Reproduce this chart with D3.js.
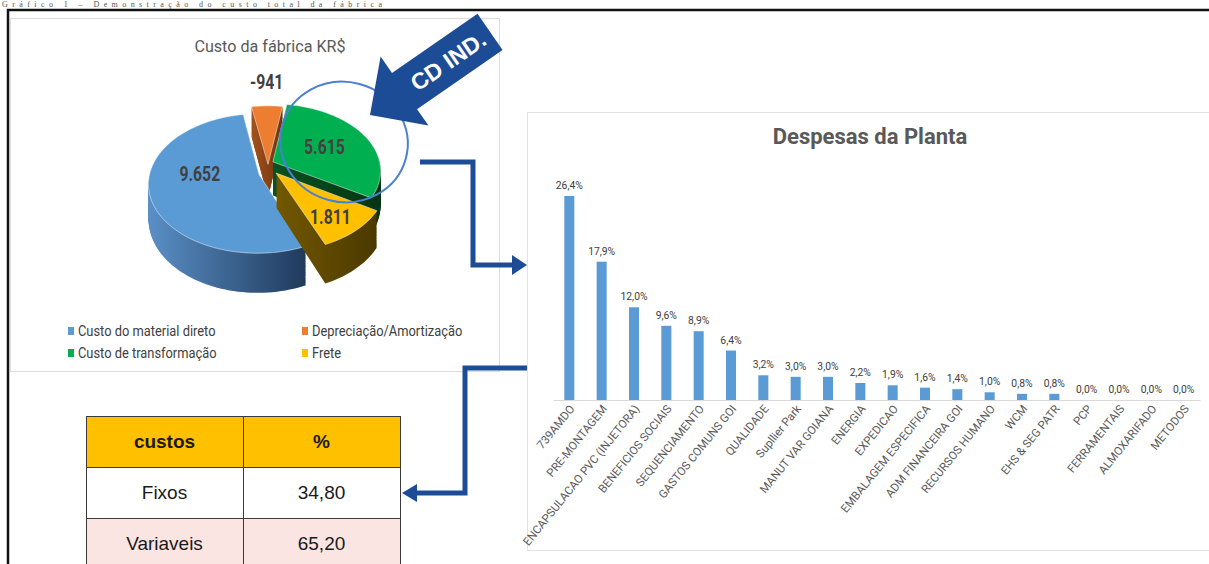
<!DOCTYPE html>
<html>
<head>
<meta charset="utf-8">
<script src="https://cdn.jsdelivr.net/npm/d3@7"></script>
<style>
  body { margin: 0; background: #fff; }
  svg { display: block; }
  text { font-family: Roboto, 'DejaVu Sans', Arial, sans-serif; }
</style>
</head>
<body>
<div id="visualization"></div>
<script>
// ---- data ----
const caption = "Gráfico 1 – Demonstração do custo total da fábrica";

const pieTitle = "Custo da fábrica KR$";
const pieCategories = ["Custo do material direto", "Depreciação/Amortização", "Custo de transformação", "Frete"];
const pieValues = [9652, -941, 5615, 1811];
const pieDrawOrder = [1, 2, 3, 0]; // order of slices around the pie, starting near 12 o'clock

const barTitle = "Despesas da Planta";
const barCategories = ["739AMDO", "PRE-MONTAGEM", "ENCAPSULACAO PVC (INJETORA)", "BENEFICIOS SOCIAIS",
  "SEQUENCIAMENTO", "GASTOS COMUNS GOI", "QUALIDADE", "Supllier Park", "MANUT VAR GOIANA", "ENERGIA",
  "EXPEDICAO", "EMBALAGEM ESPECIFICA", "ADM FINANCEIRA GOI", "RECURSOS HUMANO", "WCM", "EHS & SEG PATR",
  "PCP", "FERRAMENTAIS", "ALMOXARIFADO", "METODOS"];
const barValues = [26.4, 17.9, 12.0, 9.6, 8.9, 6.4, 3.2, 3.0, 3.0, 2.2, 1.9, 1.6, 1.4, 1.0, 0.8, 0.8, 0.0, 0.0, 0.0, 0.0];

const tableHeader = ["custos", "%"];
const tableRows = [["Fixos", "34,80"], ["Variaveis", "65,20"]];

const annotationText = "CD IND.";

// ---- styles ----
// ex/ez: explosion of each slice in the pie plane, label placement tweaks
const sliceStyle = [
  { top: "#5b9bd5", side: ["#5a8fc6", "#1f3a5c"], ex: -9, ez: -10, labelF: 0.55, labelDy: -12 },
  { top: "#ed7d31", side: ["#a4521c", "#6e3410"], ex: 0, ez: 6, labelF: 1.3, labelDy: -9 },
  { top: "#00b050", side: ["#0a5220", "#053412"], ex: 5, ez: 10, labelF: 0.55, labelDy: 0 },
  { top: "#ffc000", side: ["#735800", "#4a3900"], ex: 8, ez: -8, labelF: 0.7, labelDy: 5 }
];
const navy = "#1d4c96";
const grey = "#595959";
const dark = "#404040";

const W = 1209, H = 564;
const svg = d3.select("#visualization").append("svg")
  .attr("width", W).attr("height", H);

// text squeezed horizontally like the condensed source fonts
function label(parent, x, y, str, size, k, opts = {}) {
  return parent.append("text")
    .attr("transform", `translate(${x},${y}) scale(${k},1)`)
    .attr("text-anchor", opts.anchor || "middle")
    .attr("dy", opts.dy || "0.35em")
    .style("font-size", size + "px")
    .style("font-weight", opts.bold ? "bold" : "normal")
    .style("fill", opts.fill || dark)
    .text(str);
}

const defs = svg.append("defs");
sliceStyle.forEach((s, i) => {
  const g = defs.append("linearGradient").attr("id", "side" + i)
    .attr("x1", "0%").attr("x2", "100%").attr("y1", "0%").attr("y2", "0%");
  g.append("stop").attr("offset", "0%").attr("stop-color", s.side[0]);
  g.append("stop").attr("offset", "100%").attr("stop-color", s.side[1]);
});

// caption at the very top of the page
svg.append("text")
  .attr("x", 2).attr("y", 7)
  .attr("textLength", 380).attr("lengthAdjust", "spacing")
  .style("font-family", "'Liberation Serif', 'DejaVu Serif', serif")
  .style("font-size", "8px").style("fill", "#555")
  .text(caption);

// outer frame
svg.append("path")
  .attr("d", `M8,${H} L8,10 L${W},10`)
  .attr("fill", "none").attr("stroke", "#111").attr("stroke-width", 2.5);

// ---------------- Pie panel ----------------
svg.append("rect")
  .attr("x", 10.5).attr("y", 18.5).attr("width", 489).attr("height", 353)
  .attr("fill", "#fff").attr("stroke", "#dcdcdc");

label(svg, 270, 46, pieTitle, 17, 0.95, { fill: grey });

// 3D pie with a light perspective
const cx = 268, cy = 168, R = 108, tilt = 0.62, persp = 0.0012, depth = 34;
const toRad = Math.PI / 180;

function project(ci, theta, r, h) {
  const st = sliceStyle[ci];
  const X = st.ex + r * R * Math.sin(theta);
  const Z = st.ez + r * R * Math.cos(theta);
  const s = 1 / (1 + Z * persp);
  return [cx + X * s, cy - Z * tilt * s + h * s];
}

const pieGen = d3.pie().sort(null)
  .value(i => Math.abs(pieValues[i]))
  .startAngle(-10 * toRad).endAngle(350 * toRad);
const slices = pieGen(pieDrawOrder);
const byCat = {};
slices.forEach(s => { byCat[s.data] = s; });

const polyLine = d3.line().curve(d3.curveLinearClosed);
function slicePath(ci, h) {
  const s = byCat[ci];
  const n = Math.max(4, Math.ceil((s.endAngle - s.startAngle) / (2 * toRad)));
  const pts = [project(ci, 0, 0, h)];
  d3.range(n + 1).forEach(j => {
    pts.push(project(ci, s.startAngle + (s.endAngle - s.startAngle) * j / n, 1, h));
  });
  return polyLine(pts);
}

const pieG = svg.append("g");
// back to front: orange, green, blue, yellow
[1, 2, 0, 3].forEach(ci => {
  const g = pieG.append("g");
  g.selectAll("path.side").data(d3.range(depth, 0, -1)).enter().append("path")
    .attr("class", "side")
    .attr("d", h => slicePath(ci, h))
    .attr("fill", `url(#side${ci})`);
  g.append("path")
    .attr("d", slicePath(ci, 0))
    .attr("fill", sliceStyle[ci].top)
    .attr("stroke", "rgba(255,255,255,0.6)").attr("stroke-width", 0.8);
});

const fmtPie = v => (v < 0 ? "-" : "") + d3.format(",")(Math.abs(v)).replace(/,/g, ".");
pieDrawOrder.forEach(ci => {
  const s = byCat[ci];
  const st = sliceStyle[ci];
  const mid = (s.startAngle + s.endAngle) / 2;
  const p = project(ci, mid, st.labelF, 0);
  label(svg, p[0], p[1] + st.labelDy, fmtPie(pieValues[ci]), 21, 0.75, { bold: true });
});

// legend
const legend = svg.append("g");
pieCategories.forEach((c, i) => {
  const lx = i % 2 === 0 ? 68 : 302;
  const ly = i < 2 ? 331 : 353;
  legend.append("rect").attr("x", lx).attr("y", ly - 4).attr("width", 6).attr("height", 8)
    .attr("fill", sliceStyle[i].top);
  label(legend, lx + 10, ly, c, 14, 0.92, { anchor: "start" });
});

// highlight ellipse
svg.append("ellipse")
  .attr("cx", 344).attr("cy", 142).attr("rx", 64).attr("ry", 60)
  .attr("transform", "rotate(15,344,142)")
  .attr("fill", "none").attr("stroke", "#4a7fd6").attr("stroke-width", 2);

// "CD IND." block arrow
const cdArrow = svg.append("g").attr("transform", "translate(370,115) rotate(-34.7)");
cdArrow.append("path")
  .attr("d", "M0,0 L42,-42 L42,-22 L146,-22 L146,22 L42,22 L42,42 Z")
  .attr("fill", navy);
cdArrow.append("text")
  .attr("x", 95).attr("y", 0).attr("dy", "0.36em").attr("text-anchor", "middle")
  .style("font-family", "'Liberation Sans', Arial, sans-serif")
  .style("font-size", "23px").style("font-weight", "bold").style("fill", "#fff")
  .text(annotationText);

// ---------------- Bar panel ----------------
svg.append("rect")
  .attr("x", 527.5).attr("y", 112.5).attr("width", 700).attr("height", 438)
  .attr("fill", "#fff").attr("stroke", "#e2e2e2");

label(svg, 870, 136, barTitle, 22, 1, { bold: true, fill: grey });

const x = d3.scaleBand().domain(barCategories).range([553, 1200]).paddingInner(0.69).paddingOuter(0.35);
const y = d3.scaleLinear().domain([0, d3.max(barValues)]).range([400, 196]);

const barG = svg.append("g");
barG.selectAll("rect").data(barValues).enter().append("rect")
  .attr("x", (d, i) => x(barCategories[i]))
  .attr("y", d => y(d))
  .attr("width", x.bandwidth())
  .attr("height", d => y(0) - y(d))
  .attr("fill", "#5b9bd5");

barValues.forEach((d, i) => {
  label(barG, x(barCategories[i]) + x.bandwidth() / 2, y(d) - 11, d.toFixed(1).replace(".", ",") + "%", 11.5, 0.9);
});

const xAxis = svg.append("g")
  .attr("transform", `translate(0,${y(0)})`)
  .call(d3.axisBottom(x).tickSize(0).tickSizeOuter(0));
xAxis.select(".domain").attr("stroke", "#d9d9d9");
xAxis.selectAll("text")
  .attr("text-anchor", "end")
  .attr("dy", null).attr("y", 0)
  .attr("transform", "translate(6,9) rotate(-51)")
  .style("font-size", "11.5px").style("fill", grey)
  .style("font-family", "Roboto, 'DejaVu Sans', Arial, sans-serif");

// ---------------- connectors ----------------
const conn = svg.append("g");
conn.append("path")
  .attr("d", "M420,162 H473 V265 H514")
  .attr("fill", "none").attr("stroke", navy).attr("stroke-width", 5);
conn.append("path").attr("d", "M527,265 L512,255 L512,275 Z").attr("fill", navy);

conn.append("path")
  .attr("d", "M527,368 H465 V493 H415")
  .attr("fill", "none").attr("stroke", navy).attr("stroke-width", 5);
conn.append("path").attr("d", "M402,493 L417,484 L417,502 Z").attr("fill", navy);

// ---------------- table ----------------
const colX = [86, 243, 400];
const rowY = [416, 467, 518, 569];
const rowFill = ["#ffc000", "#ffffff", "#fbe5e3"];
const allRows = [tableHeader].concat(tableRows);
const table = svg.append("g");
allRows.forEach((row, r) => {
  row.forEach((cell, c) => {
    table.append("rect")
      .attr("x", colX[c] + 0.5).attr("y", rowY[r] + 0.5)
      .attr("width", colX[c + 1] - colX[c]).attr("height", rowY[r + 1] - rowY[r])
      .attr("fill", rowFill[r]).attr("stroke", "#3a3a3a").attr("stroke-width", 1);
    table.append("text")
      .attr("x", (colX[c] + colX[c + 1]) / 2)
      .attr("y", (rowY[r] + rowY[r + 1]) / 2).attr("dy", "0.36em")
      .attr("text-anchor", "middle")
      .style("font-family", "'Liberation Sans', Arial, sans-serif")
      .style("font-size", "19px")
      .style("font-weight", r === 0 ? "bold" : "normal")
      .style("fill", "#1a1a1a")
      .text(cell);
  });
});
</script>
</body>
</html>
